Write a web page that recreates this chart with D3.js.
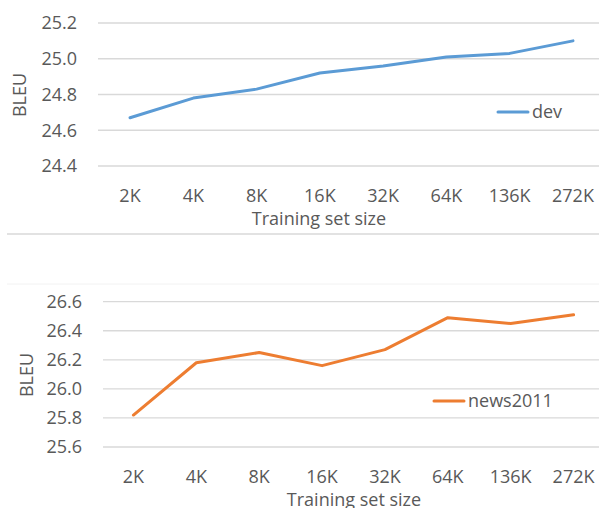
<!DOCTYPE html>
<html><head><meta charset="utf-8">
<script src="https://cdn.jsdelivr.net/npm/d3@7"></script>
<style>body{margin:0;background:#fff}svg{display:block}text{font-family:"Open Sans",sans-serif;fill:#595959}</style>
</head><body><div id="c"></div>
<script>
const categories = ["2K","4K","8K","16K","32K","64K","136K","272K"];
const devValues = [24.67,24.78,24.83,24.92,24.96,25.01,25.03,25.10];
const newsValues = [25.82,26.18,26.25,26.16,26.27,26.49,26.45,26.51];
const devTicks = [24.4,24.6,24.8,25.0,25.2];
const newsTicks = [25.6,25.8,26.0,26.2,26.4,26.6];

const W=599,H=508;
const svg=d3.select("#c").append("svg").attr("width",W).attr("height",H);

function panel(cfg){
  const g=svg.append("g");
  const x=d3.scalePoint().domain(categories).range(cfg.xr).padding(0.5);
  const y=d3.scaleLinear().domain(cfg.yd).range(cfg.yr);
  // gridlines
  g.selectAll(".grid").data(cfg.ticks).join("line")
    .attr("x1",cfg.gx0).attr("x2",W).attr("y1",d=>y(d)).attr("y2",d=>y(d))
    .attr("stroke","#d9d9d9").attr("stroke-width",1.3);
  // y tick labels
  g.selectAll(".yt").data(cfg.ticks).join("text")
    .attr("x",cfg.ytx).attr("y",d=>y(d)).attr("dy","0.35em").attr("text-anchor","end")
    .style("font-size","18px").text(d=>d.toFixed(1));
  // x tick labels
  g.selectAll(".xt").data(categories).join("text")
    .attr("x",d=>x(d)).attr("y",cfg.xty).attr("text-anchor","middle")
    .style("font-size","18px").text(d=>d);
  // x title
  g.append("text").attr("x",cfg.xtitle[0]).attr("y",cfg.xtitle[1]).attr("text-anchor","middle")
    .style("font-size","18px").text("Training set size");
  // y title
  g.append("text").attr("transform",`translate(${cfg.ytitle[0]},${cfg.ytitle[1]}) rotate(-90)`)
    .attr("text-anchor","middle").attr("dy","0.35em").style("font-size","18px").text("BLEU");
  // line
  const line=d3.line().x((d,i)=>x(categories[i])).y(d=>y(d));
  g.append("path").datum(cfg.values).attr("d",line).attr("fill","none")
    .attr("stroke",cfg.color).attr("stroke-width",3).attr("stroke-linecap","round").attr("stroke-linejoin","round");
  // legend
  g.append("line").attr("x1",cfg.leg[0]).attr("x2",cfg.leg[0]+30).attr("y1",cfg.leg[1]).attr("y2",cfg.leg[1])
    .attr("stroke",cfg.color).attr("stroke-width",3).attr("stroke-linecap","round");
  g.append("text").attr("x",cfg.leg[0]+34).attr("y",cfg.leg[1]).attr("dy","0.35em")
    .style("font-size","18px").text(cfg.name);
}

panel({xr:[98.4,604.6],yd:[24.4,25.2],yr:[166,23],ticks:devTicks,gx0:98,ytx:77,xty:202,
  xtitle:[319,225],ytitle:[20,95],values:devValues,color:"#5B9BD5",leg:[498,112],name:"dev"});
panel({xr:[102,605],yd:[25.6,26.6],yr:[447,301.7],ticks:newsTicks,gx0:103,ytx:82,xty:483,
  xtitle:[354,506],ytitle:[27,375],values:newsValues,color:"#ED7D31",leg:[434,401],name:"news2011"});

// separators
svg.append("line").attr("x1",7).attr("x2",W).attr("y1",234).attr("y2",234).attr("stroke","#d9d9d9").attr("stroke-width",1.3);
svg.append("line").attr("x1",7).attr("x2",W).attr("y1",284).attr("y2",284).attr("stroke","#f2f2f2").attr("stroke-width",1);
</script></body></html>
